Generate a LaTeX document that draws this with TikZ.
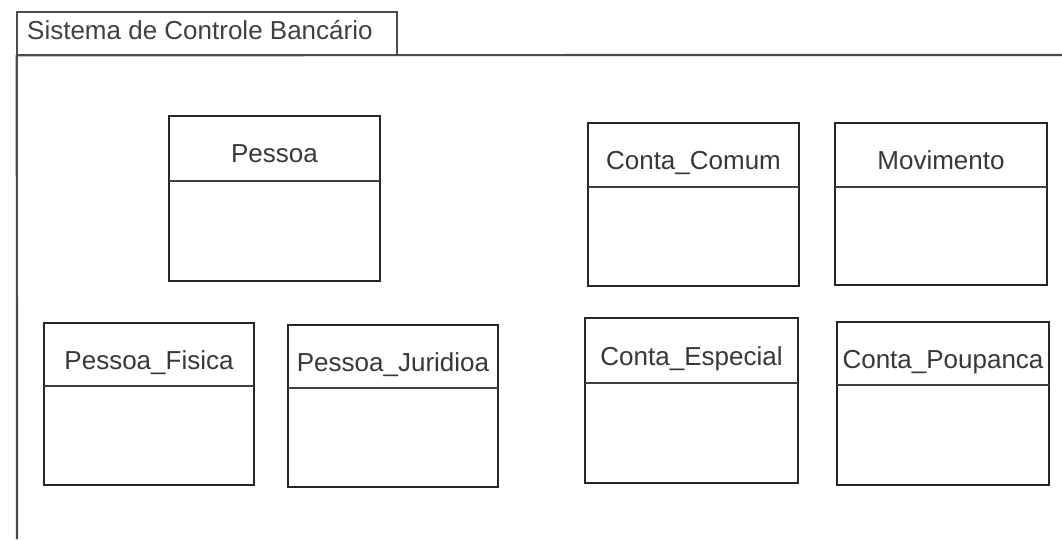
\documentclass[tikz,border=0pt]{standalone}
\usepackage{fontspec}
\setmainfont{Liberation Sans}
\usetikzlibrary{fit}
\tikzset{
  pkgline/.style={draw=black!70, line width=2.2pt},
  clsbox/.style={draw=black!85, line width=1.9pt, rectangle, inner sep=0pt, fill=white},
  clsdiv/.style={draw=black!75, line width=1.5pt},
  clslabel/.style={anchor=base, inner sep=0pt, text=black!78, font=\fontsize{26}{30}\selectfont},
  tablabel/.style={anchor=base west, inner sep=0pt, text=black!75, font=\fontsize{26}{30}\selectfont}
}
\begin{document}
\begin{tikzpicture}[x=1pt, y=-1pt]
\useasboundingbox[fill=white] (0,0) rectangle (1062,539);
% package
\node[rectangle, inner sep=0pt, fit={(17,12)(397,55)}] (tab) {};
\draw[pkgline] (tab.south west) -- (tab.north west) -- (tab.north east) -- (tab.south east);
\coordinate (bodyend) at (1062,55);
\coordinate (bodybottom) at (17,539);
\draw[pkgline] (tab.south west) -- (bodyend);
\draw[pkgline] (tab.south west) -- (bodybottom);
\node[tablabel] (tabtext) at (27,39) {Sistema de Controle Bancário};
% classes
\newcommand\umlcls[8]{% name, x1, y1, x2, y2, ydiv, baseline, label
  \node[clsbox, fit={(#2,#3)(#4,#5)}] (#1) {};
  \coordinate (#1-dl) at (#2,#6);
  \coordinate (#1-dr) at (#4,#6);
  \draw[clsdiv] (#1-dl) -- (#1-dr);
  \node[clslabel] (#1-name) at ({(#2+#4)/2},#7) {#8};
}
\umlcls{pessoa}{169}{116}{380}{281}{181}{162}{Pessoa}
\umlcls{pfis}{44}{323}{254}{485}{386}{369}{Pessoa\_Fisica}
\umlcls{pjur}{288}{325}{498}{487}{388}{371}{Pessoa\_Juridioa}
\umlcls{ccom}{588}{123}{799}{286}{187}{169}{Conta\_Comum}
\umlcls{mov}{835}{123}{1047}{285}{187}{169}{Movimento}
\umlcls{cesp}{585}{318}{798}{483}{383}{365}{Conta\_Especial}
\umlcls{cpou}{837}{322}{1049}{485}{385}{368}{Conta\_Poupanca}
\end{tikzpicture}
\end{document}
